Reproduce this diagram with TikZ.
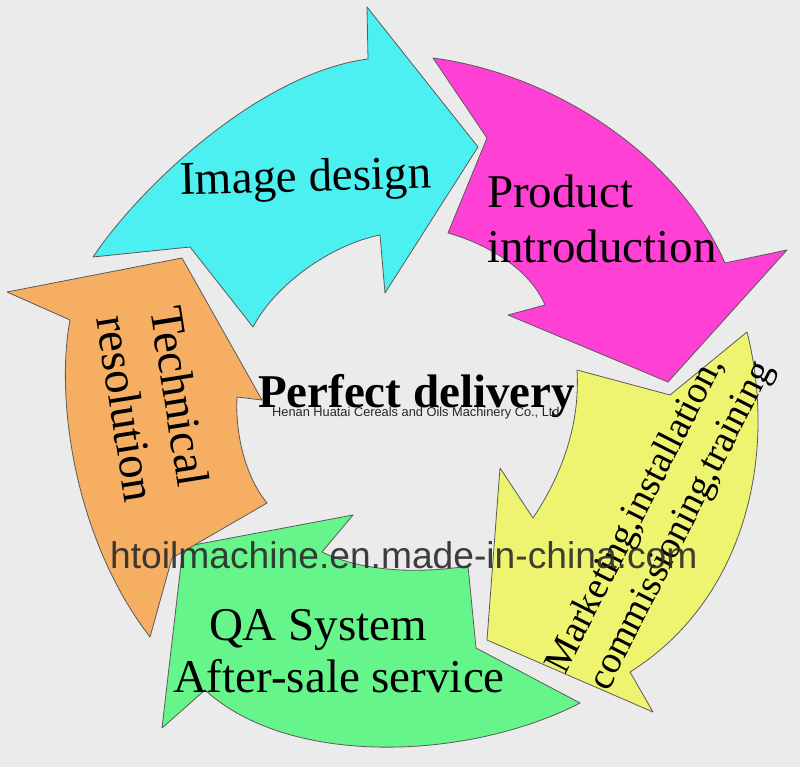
\documentclass[tikz,border=0pt]{standalone}
\usepackage{fontspec}
\setmainfont{Liberation Serif}
\newfontfamily\arialf{Liberation Sans}
\definecolor{bg}{HTML}{EBEBEB}
\definecolor{cyanA}{HTML}{4CF0F0}
\definecolor{magA}{HTML}{FF40D4}
\definecolor{yelA}{HTML}{EEF470}
\definecolor{grnA}{HTML}{66F58A}
\definecolor{orgA}{HTML}{F5AE62}
\definecolor{edgeA}{HTML}{5A5A5A}
\definecolor{wmA}{HTML}{2A2A2A}
\begin{document}
\begin{tikzpicture}[x=1pt,y=-1pt,
  shapeA/.style={draw=edgeA, line width=0.8pt, line join=round},
  lbl/.style={inner sep=0pt, outer sep=0pt, anchor=base west, font=\fontsize{47}{55}\selectfont},
  lblsm/.style={inner sep=0pt, outer sep=0pt, anchor=base west, font=\fontsize{38.3}{46}\selectfont}]
\fill[bg] (0,0) rectangle (800,767);
\useasboundingbox (0,0) rectangle (800,767);

% cyan: Image design
\path[shapeA, fill=cyanA] (93,257)
  .. controls (145,180) and (265,72) .. (368,59)
  -- (367,7) -- (478,147) -- (385,293) -- (380,235)
  .. controls (330,245) and (275,285) .. (253,327)
  -- (190,247) -- cycle;

% magenta: Product introduction
\path[shapeA, fill=magA] (433,58)
  .. controls (560,75) and (680,160) .. (725,263)
  -- (787,250) -- (668,382) -- (508,315) -- (545,305)
  .. controls (530,270) and (490,245) .. (448,233)
  -- (487,138) -- cycle;

% yellow: Marketing
\path[shapeA, fill=yelA] (747,332)
  .. controls (778,455) and (745,600) .. (630,672)
  -- (653,712) -- (487,640) -- (500,468) -- (533,518)
  .. controls (565,470) and (580,420) .. (577,370)
  -- (670,395) -- cycle;

% green: QA
\path[shapeA, fill=grnA] (183,547) -- (353,515) -- (322,552)
  .. controls (370,575) and (430,572) .. (468,566)
  -- (476,648) -- (580,703)
  .. controls (470,760) and (290,768) .. (205,690)
  -- (162,728) -- cycle;

% orange: Technical resolution
\path[shapeA, fill=orgA] (182,258) -- (262,400) -- (237,397)
  .. controls (235,440) and (248,480) .. (267,503)
  -- (172,558) -- (150,637)
  .. controls (75,540) and (55,400) .. (70,320)
  -- (7,292) -- cycle;

% labels
\node[lbl, rotate=1.6] (img) at (180,195) {Image design};
\node[lbl] (prod1) at (487,208) {Product};
\node[lbl] (prod2) at (487,262) {introduction};
\node[lblsm, rotate=63] (mk1) at (565,675) {Marketing,installation,};
\node[lblsm, rotate=63] (mk2) at (608,692) {commissioning,training};
\node[lbl] (qa1) at (209,640) {QA System};
\node[lbl] (qa2) at (173,692) {After-sale service};
\node[lbl, rotate=-81] (tech1) at (150,309) {Technical};
\node[lbl, rotate=-81] (tech2) at (96,318) {resolution};
\node[lbl, font=\fontsize{47}{55}\selectfont\bfseries] (pd) at (258,407) {Perfect delivery};
\node[inner sep=0pt, anchor=base west, font=\arialf\fontsize{12.8}{15}\selectfont, text=black!85] (co) at (272,416) {Henan Huatai Cereals and Oils Machinery Co., Ltd};
\node[inner sep=0pt, anchor=base west, font=\arialf\fontsize{37.2}{44}\selectfont, text=wmA, text opacity=0.9] (wm) at (110,568) {htoilmachine.en.made-in-china.com};
\end{tikzpicture}
\end{document}
